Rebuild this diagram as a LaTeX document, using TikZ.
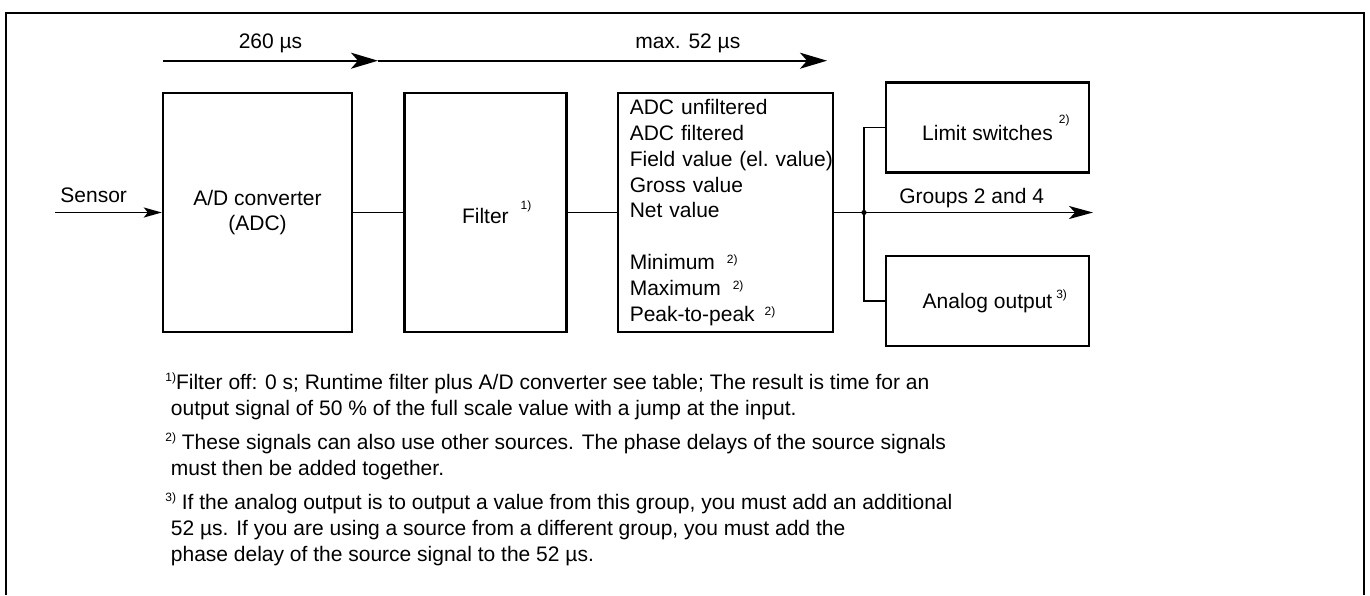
\documentclass[tikz,border=0pt]{standalone}
\usepackage{fontspec}
\setmainfont{Liberation Sans}
\usetikzlibrary{arrows.meta, positioning}

\newcommand{\fnmark}[2][3pt]{\raisebox{#1}{\fontsize{6}{6}\selectfont #2}}

\begin{document}
\begin{tikzpicture}[
        x=0.5pt, y=-0.5pt,
        font=\fontsize{10.5pt}{12.9pt}\selectfont,
        block/.style={rectangle, draw, line width=1.2pt, minimum height=119.5pt, align=center},
        outbox/.style={rectangle, draw, line width=1.2pt, minimum width=101.5pt, minimum height=45pt, align=center},
        wire/.style={line width=0.9pt},
        timearrow/.style={line width=1pt, -{Stealth[length=13.5pt, width=8pt, inset=3.5pt]}},
        sigarrow/.style={line width=0.9pt, -{Stealth[length=12pt, width=6.5pt, inset=3pt]}},
        inarrow/.style={line width=0.9pt, -{Stealth[length=9pt, width=5pt, inset=2pt]}}
    ]
        \useasboundingbox (0,0) rectangle (1370,595);
        % Frame
        \draw[line width=1pt] (6,595) -- (6,12.7) -- (1364,12.7) -- (1364,595);

        % Nodes
        \node[block, minimum width=94.5pt] (adc) at (257.5,212.5) {A/D converter\\(ADC)};
        \node[block, minimum width=81pt, right=25pt of adc] (filter) {Filter\rlap{\hspace{6pt}\fnmark[7pt]{1)}}};
        \node[block, minimum width=107.5pt, right=24.5pt of filter, align=left, text width=95.5pt, inner xsep=6pt] (values) {ADC unfiltered\\ADC filtered\\\mbox{Field value (el.\ value)}\\Gross value\\Net value\\[12.9pt]Minimum\hspace{6pt}\fnmark{2)}\\Maximum\hspace{6pt}\fnmark{2)}\\Peak-to-peak\hspace{5pt}\fnmark{2)}};
        \node[outbox] (limit) at (987.5,127.5) {Limit switches\rlap{\hspace{3pt}\fnmark[8.5pt]{2)}}};
        \node[outbox, below=40.5pt of limit] (analog) {Analog output\rlap{\hspace{2pt}\fnmark[5pt]{3)}}};
        \node[anchor=base west, inner sep=0] (sensorlbl) at (60,202) {Sensor};

        \coordinate (sensorin) at (55,212.5);
        \coordinate[right=15pt of values.east] (junc);
        \coordinate[right=114.5pt of junc] (groupsout);
        \coordinate (t0) at (163,60.7);
        \coordinate (t1) at (378,60.7);
        \coordinate (t2) at (827,60.7);

        % Timing
        \draw[timearrow] (t0) -- (t1) node[midway, above=0pt] (time1) {260 µs};
        \draw[timearrow] (t1) -- (t2) node[pos=0.69, above=0pt] (time2) {max. 52 µs};

        % Arrows
        \draw[inarrow] (sensorin) -- (adc);
        \draw[wire] (adc) -- (filter);
        \draw[wire] (filter) -- (values);
        \draw[wire] (values) -- (junc);
        \draw[wire] (junc) |- (limit);
        \draw[wire] (junc) |- (analog);
        \draw[sigarrow] (junc) -- (groupsout) node[pos=0.47, above=-1.5pt] (groupslbl) {Groups 2 and 4};
        \fill (junc) circle (1.3pt);

        % Notes
        \node[anchor=north west, inner sep=0, align=left, font=\fontsize{10.5pt}{13pt}\selectfont] (notes) at (165,372) {%
            \fnmark[4pt]{1)}Filter off: 0 s; Runtime filter plus A/D converter see table; The result is time for an\\
            \hspace{2.75pt}output signal of 50 \% of the full scale value with a jump at the input.\\[4pt]
            \fnmark[4pt]{2)} These signals can also use other sources. The phase delays of the source signals\\
            \hspace{2.75pt}must then be added together.\\[4pt]
            \fnmark[4pt]{3)} If the analog output is to output a value from this group, you must add an additional\\
            \hspace{2.75pt}52 µs. If you are using a source from a different group, you must add the\\
            \hspace{2.75pt}phase delay of the source signal to the 52 µs.};
    \end{tikzpicture}
\end{document}
